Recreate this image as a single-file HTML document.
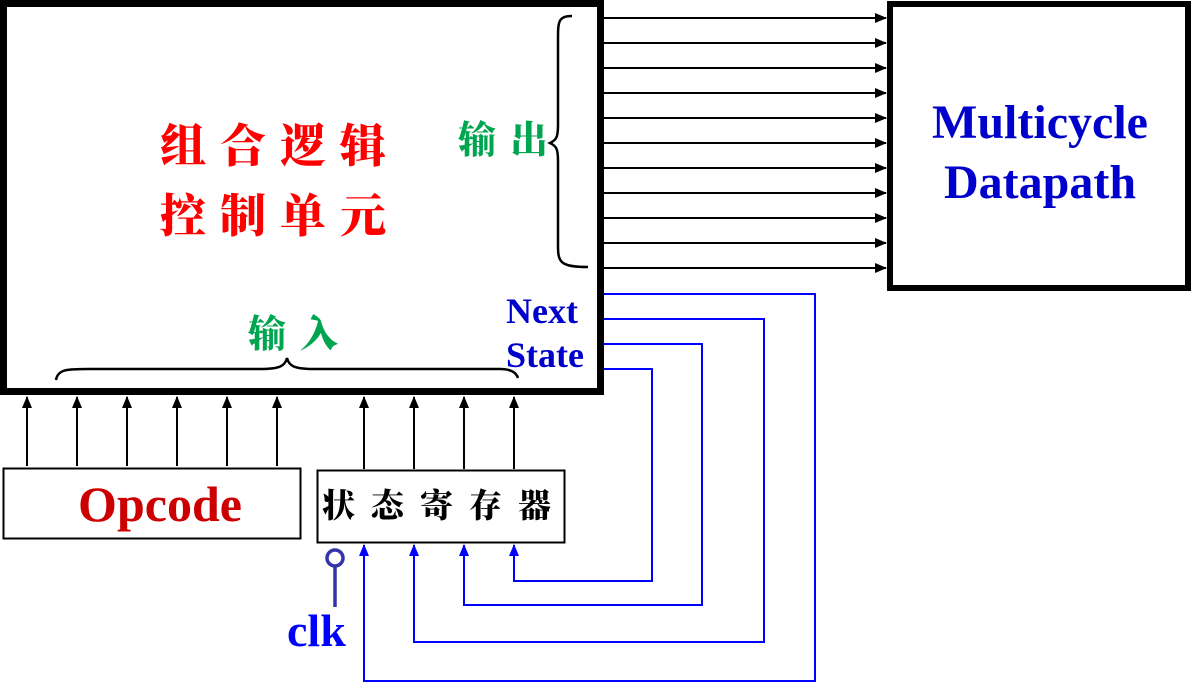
<!DOCTYPE html>
<html><head><meta charset="utf-8"><style>
body{margin:0;background:#fff;width:1191px;height:689px;overflow:hidden}
svg{display:block}
.s{font-family:"Liberation Serif",serif;font-weight:bold}
.c{font-family:"Liberation Serif","Noto Serif CJK SC",serif;font-weight:900}
</style></head><body>
<svg width="1191" height="689" viewBox="0 0 1191 689" xmlns="http://www.w3.org/2000/svg">
<defs>
<marker id="ak" markerWidth="12" markerHeight="12" refX="11" refY="6" orient="auto" markerUnits="userSpaceOnUse"><path d="M0,1 L12,6 L0,11Z" fill="#000"/></marker>
<marker id="ab" markerWidth="12" markerHeight="12" refX="11" refY="6" orient="auto" markerUnits="userSpaceOnUse"><path d="M0,1 L12,6 L0,11Z" fill="#00f"/></marker>
</defs>
<rect x="3.5" y="3.5" width="597" height="388" fill="none" stroke="#000" stroke-width="7"/>
<rect x="890" y="4" width="298" height="284" fill="none" stroke="#000" stroke-width="6"/>
<g stroke="#000" stroke-width="2" marker-end="url(#ak)">
<line x1="604" y1="18" x2="886" y2="18"/><line x1="604" y1="43" x2="886" y2="43"/>
<line x1="604" y1="68" x2="886" y2="68"/><line x1="604" y1="93" x2="886" y2="93"/>
<line x1="604" y1="118" x2="886" y2="118"/><line x1="604" y1="143" x2="886" y2="143"/>
<line x1="604" y1="168" x2="886" y2="168"/><line x1="604" y1="193" x2="886" y2="193"/>
<line x1="604" y1="218" x2="886" y2="218"/><line x1="604" y1="243" x2="886" y2="243"/>
<line x1="604" y1="268" x2="886" y2="268"/>
<line x1="27" y1="466" x2="27" y2="397"/><line x1="77" y1="466" x2="77" y2="397"/>
<line x1="127" y1="466" x2="127" y2="397"/><line x1="177" y1="466" x2="177" y2="397"/>
<line x1="227" y1="466" x2="227" y2="397"/><line x1="277" y1="466" x2="277" y2="397"/>
<line x1="364" y1="469" x2="364" y2="397"/><line x1="414" y1="469" x2="414" y2="397"/>
<line x1="464" y1="469" x2="464" y2="397"/><line x1="514" y1="469" x2="514" y2="397"/>
</g>
<rect x="3.5" y="468.5" width="297" height="70" fill="none" stroke="#000" stroke-width="2"/>
<rect x="317.5" y="470.5" width="247" height="72" fill="none" stroke="#000" stroke-width="2"/>
<g stroke="#00f" stroke-width="2" fill="none" marker-end="url(#ab)">
<polyline points="604,294 815,294 815,681 364,681 364,545"/>
<polyline points="604,319 764,319 764,642 414,642 414,545"/>
<polyline points="604,344 702,344 702,605 464,605 464,545"/>
<polyline points="604,369 652,369 652,581 514,581 514,545"/>
</g>
<circle cx="335" cy="558" r="8" fill="none" stroke="#3333aa" stroke-width="3.5"/>
<line x1="335" y1="566" x2="335" y2="607" stroke="#3333aa" stroke-width="3.5"/>
<path d="M572,16 C558,16 558,22 558,40 L558,125 C558,138 556,140 550,143 C556,146 558,148 558,161 L558,246 C558,262 560,267 588,267" fill="none" stroke="#000" stroke-width="2.5"/>
<path d="M56,380 C58,368 70,369 95,369 L260,369 C280,369 285,366 287,358 C289,366 294,369 314,369 L500,369 C510,369 516,372 518,378" fill="none" stroke="#000" stroke-width="2.5"/>
<text class="c" x="160" y="162" font-size="46" fill="#ff0000" letter-spacing="14">组合逻辑</text>
<text class="c" x="160" y="232" font-size="46" fill="#ff0000" letter-spacing="14">控制单元</text>
<text class="c" x="458" y="153" font-size="38" fill="#00a550" letter-spacing="14">输出</text>
<text class="c" x="248" y="347" font-size="38" fill="#00a550" letter-spacing="14">输入</text>
<text class="c" x="322" y="517" font-size="33" fill="#000" letter-spacing="16">状态寄存器</text>
<text class="s" x="1040" y="138" font-size="48" fill="#0000cc" text-anchor="middle">Multicycle</text>
<text class="s" x="1040" y="198" font-size="48" fill="#0000cc" text-anchor="middle">Datapath</text>
<text class="s" x="506" y="323" font-size="36" fill="#0000cc">Next</text>
<text class="s" x="506" y="367" font-size="36" fill="#0000cc">State</text>
<text class="s" x="160" y="521" font-size="50" fill="#cc0000" text-anchor="middle">Opcode</text>
<text class="s" x="287" y="646" font-size="46" fill="#0000ff">clk</text>
</svg>
</body></html>
